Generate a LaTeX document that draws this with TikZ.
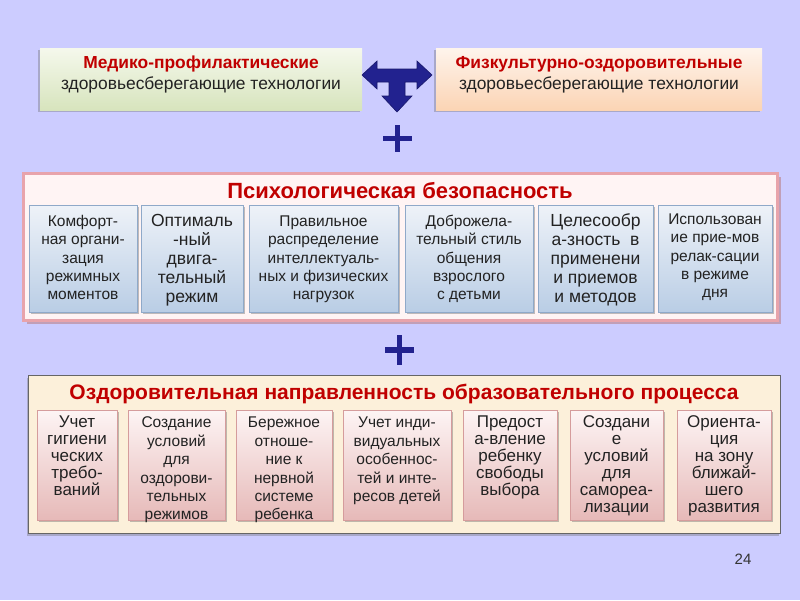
\documentclass[tikz,border=0pt]{standalone}
\usepackage{fontspec}
\setmainfont{Liberation Sans}
\usetikzlibrary{shadows}
\definecolor{bg}{HTML}{CCCCFF}
\definecolor{navy}{HTML}{22228F}
\definecolor{tred}{HTML}{C00000}
\definecolor{tx}{HTML}{222222}
\definecolor{gTop}{HTML}{F5F8EC}
\definecolor{gBot}{HTML}{D7E4BD}
\definecolor{oTop}{HTML}{FEF4EC}
\definecolor{oBot}{HTML}{FBD4B4}
\definecolor{bTop}{HTML}{EEF2F8}
\definecolor{bBot}{HTML}{B9CDE5}
\definecolor{bEdge}{HTML}{8FA9C9}
\definecolor{rTop}{HTML}{FDF4F4}
\definecolor{rBot}{HTML}{E6B9B8}
\definecolor{rEdge}{HTML}{D59C9C}
\definecolor{pFill}{HTML}{FFF4F4}
\definecolor{pEdge}{HTML}{E8A3AB}
\definecolor{cFill}{HTML}{FCF0DA}
\newcommand\mystrut{\rule{0pt}{0.76em}}
\newcommand\tightls{\lineskiplimit=-20pt\relax}
\tikzset{
  topbox/.style={anchor=north west, inner sep=0pt, draw=none,
    drop shadow={shadow xshift=-2pt, shadow yshift=-2pt, opacity=0.35, fill=black!60}},
  greenbox/.style={topbox, top color=gTop, bottom color=gBot},
  orangebox/.style={topbox, top color=oTop, bottom color=oBot},
  bluebox/.style={anchor=north west, inner sep=0pt, draw=bEdge, line width=0.8pt,
    top color=bTop, bottom color=bBot, minimum height=107pt,
    drop shadow={shadow xshift=2pt, shadow yshift=-2pt, opacity=0.45, fill=black!55}},
  pinkbox/.style={anchor=north west, inner sep=0pt, draw=rEdge, line width=0.8pt,
    top color=rTop, bottom color=rBot, minimum height=110pt,
    drop shadow={shadow xshift=2pt, shadow yshift=-2pt, opacity=0.45, fill=black!55}},
  psypanel/.style={anchor=north west, inner sep=0pt, fill=pFill, draw=pEdge, line width=3pt,
    drop shadow={shadow xshift=3pt, shadow yshift=-3pt, opacity=0.6, fill=pEdge!80!black}},
  healthpanel/.style={anchor=north west, inner sep=0pt, fill=cFill, draw=black!60, line width=1.4pt,
    drop shadow={shadow xshift=-2pt, shadow yshift=-2pt, opacity=0.35, fill=black!60}},
  txt/.style={anchor=north, inner sep=0pt, align=center, text=tx},
  toptxt/.style={txt, font={\fontsize{17.4}{21}\selectfont\tightls}},
  sm/.style={txt, font={\fontsize{15.5}{18.4}\selectfont\tightls}},
  lg/.style={txt, font={\fontsize{17.5}{19}\selectfont\tightls}},
  lgb/.style={txt, font={\fontsize{17}{17}\selectfont\tightls}},
  title/.style={anchor=base, inner sep=0pt, text=tred, font={\fontsize{21}{24}\selectfont\bfseries}},
  plussign/.style={draw=navy, line width=5.5pt},
  arrowshape/.style={fill=navy, draw=navy!75!black, line width=0.6pt, line join=miter}
}
\begin{document}
\begin{tikzpicture}[x=1pt,y=-1pt]
\fill[bg] (0,0) rectangle (800,600);
\useasboundingbox (0,0) rectangle (800,600);

% top boxes
\node[greenbox, minimum width=322pt, minimum height=62pt] (med) at (40,48) {};
\node[toptxt] (medt) at (201,55) {\mystrut\textcolor{tred}{\textbf{Медико-профилактические}}\\здоровьесберегающие технологии};
\node[orangebox, minimum width=326pt, minimum height=62pt] (fiz) at (436,48) {};
\node[toptxt] (fizt) at (599,55) {\mystrut\textcolor{tred}{\textbf{Физкультурно-оздоровительные}}\\здоровьесберегающие технологии};

% T arrow
\fill[arrowshape] (362,75) -- (377,61) -- (377,69) -- (417,69) -- (417,61) -- (432,75)
  -- (417,89) -- (417,82) -- (405,82) -- (405,96) -- (412,96) -- (397,112) -- (382,96)
  -- (389,96) -- (389,82) -- (377,82) -- (377,89) -- cycle;

% plus 1
\draw[plussign] (383,138.5) -- (412,138.5);
\draw[plussign] (397.5,125) -- (397.5,152);

% psychological safety panel
\node[psypanel, minimum width=754pt, minimum height=147pt] (psy) at (22,172) {};
\node[title, font={\fontsize{22}{24}\selectfont\bfseries}] (psyt) at (400,198) {Психологическая безопасность};

\node[bluebox, minimum width=108pt] (p1) at (29,205) {};
\node[bluebox, minimum width=102pt] (p2) at (141,205) {};
\node[bluebox, minimum width=149pt] (p3) at (249,205) {};
\node[bluebox, minimum width=128pt] (p4) at (405,205) {};
\node[bluebox, minimum width=115pt] (p5) at (538,205) {};
\node[bluebox, minimum width=114pt] (p6) at (658,205) {};

\node[sm] (p1t) at (83,214.3) {\mystrut Комфорт-\\ная органи-\\зация\\режимных\\моментов};
\node[lg] (p2t) at (192,213.3) {\mystrut Оптималь\\-ный\\двига-\\тельный\\режим};
\node[sm] (p3t) at (323.5,214.3) {\mystrut Правильное\\распределение\\интеллектуаль-\\ных и физических\\нагрузок};
\node[sm] (p4t) at (469,214.3) {\mystrut Доброжела-\\тельный стиль\\общения\\взрослого\\с детьми};
\node[lg] (p5t) at (595.5,213.3) {\mystrut Целесообр\\а-зность~~в\\применени\\и приемов\\и методов};
\node[sm] (p6t) at (715,212.3) {\mystrut Использован\\ие прие-мов\\релак-сации\\в режиме\\дня};

% plus 2
\draw[plussign] (385,350) -- (414,350);
\draw[plussign] (399.5,335) -- (399.5,365);

% health panel
\node[healthpanel, minimum width=752pt, minimum height=158pt] (hp) at (28,375) {};
\node[title] (hpt) at (404,399) {Оздоровительная направленность образовательного процесса};

\node[pinkbox, minimum width=80pt] (h1) at (37,410) {};
\node[pinkbox, minimum width=97pt] (h2) at (128,410) {};
\node[pinkbox, minimum width=96pt] (h3) at (236,410) {};
\node[pinkbox, minimum width=108pt] (h4) at (343,410) {};
\node[pinkbox, minimum width=94pt] (h5) at (463,410) {};
\node[pinkbox, minimum width=93pt] (h6) at (570,410) {};
\node[pinkbox, minimum width=94pt] (h7) at (677,410) {};

\node[lgb] (h1t) at (77,414.5) {\mystrut Учет\\гигиени\\ческих\\требо-\\ваний};
\node[sm] (h2t) at (176.5,416) {\mystrut Создание\\условий\\для\\оздорови-\\тельных\\режимов};
\node[sm] (h3t) at (284,416) {\mystrut Бережное\\отноше-\\ние к\\нервной\\системе\\ребенка};
\node[sm] (h4t) at (397,416) {\mystrut Учет инди-\\видуальных\\особеннос-\\тей и инте-\\ресов детей};
\node[lgb] (h5t) at (510,414.5) {\mystrut Предост\\а-вление\\ребенку\\свободы\\выбора};
\node[lgb] (h6t) at (616.5,414.5) {\mystrut Создани\\е\\условий\\для\\самореа-\\лизации};
\node[lgb] (h7t) at (724,414.5) {\mystrut Ориента-\\ция\\на зону\\ближай-\\шего\\развития};

% page number
\node[anchor=base, inner sep=0pt, text=black!80, font={\fontsize{15}{18}\selectfont}] (pg) at (743,564.5) {24};
\end{tikzpicture}
\end{document}
